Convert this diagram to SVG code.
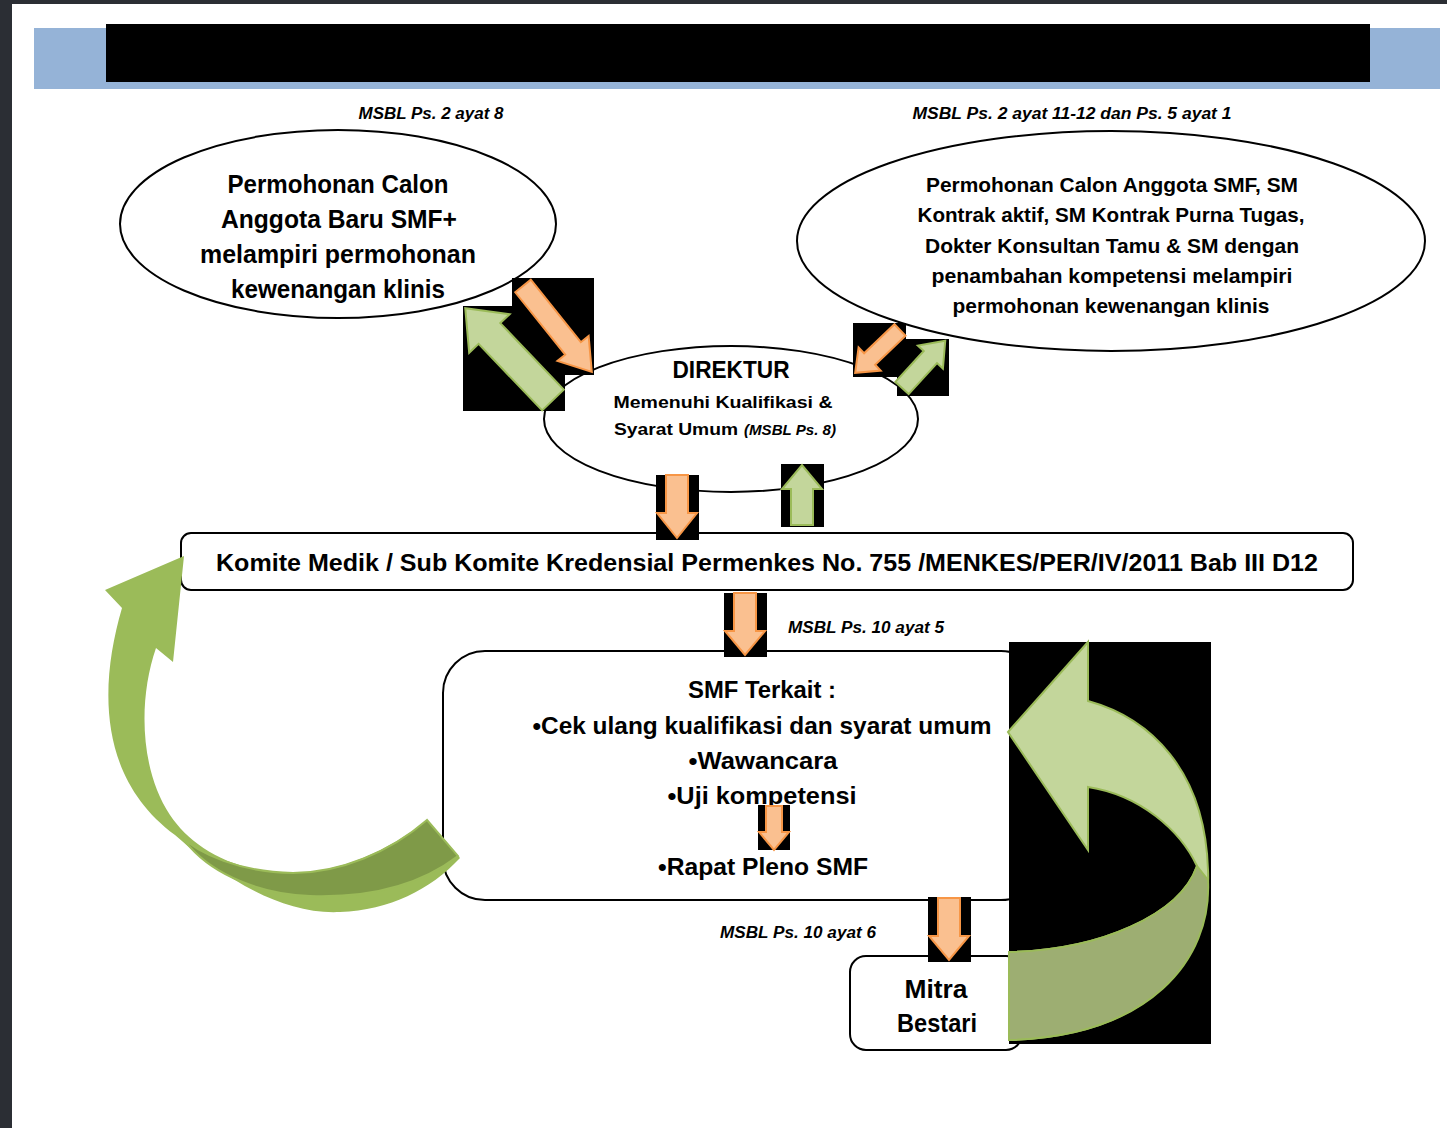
<svg xmlns="http://www.w3.org/2000/svg" width="1447" height="1128" viewBox="0 0 1447 1128">
<style>
.t{font-family:"Liberation Sans",Arial,sans-serif;font-weight:bold;fill:#000;text-anchor:middle}
.ref{font-family:"Liberation Sans",Arial,sans-serif;font-weight:bold;font-style:italic;font-size:16px;fill:#000;text-anchor:middle}
.shape{fill:#fff;stroke:#000;stroke-width:2}
.bg{fill:#000}
.or{fill:#fac090;stroke:#f79646;stroke-width:2;stroke-linejoin:miter}
.gr{fill:#c3d69b;stroke:#9bbb59;stroke-width:2;stroke-linejoin:miter}
</style>
<rect x="0" y="0" width="1447" height="1128" fill="#2b2e34"/>
<rect x="12" y="4" width="1435" height="1124" fill="#fff"/>
<rect x="34" y="28" width="1406" height="61" fill="#95b3d7"/>
<rect x="106" y="24" width="1264" height="58" fill="#000"/>

<text class="ref" x="431" y="119" textLength="145" lengthAdjust="spacingAndGlyphs">MSBL Ps. 2 ayat 8</text>
<text class="ref" x="1072" y="119" textLength="319" lengthAdjust="spacingAndGlyphs">MSBL Ps. 2 ayat 11-12 dan Ps. 5 ayat 1</text>

<g id="node-permohonan-baru">
<ellipse class="shape" cx="338" cy="224" rx="218" ry="94"/>
<text class="t" font-size="25" x="338" y="193" textLength="221" lengthAdjust="spacingAndGlyphs">Permohonan Calon</text>
<text class="t" font-size="25" x="339" y="228" textLength="236" lengthAdjust="spacingAndGlyphs">Anggota  Baru SMF+</text>
<text class="t" font-size="25" x="338" y="263" textLength="276" lengthAdjust="spacingAndGlyphs">melampiri permohonan</text>
<text class="t" font-size="25" x="338" y="298" textLength="214" lengthAdjust="spacingAndGlyphs">kewenangan klinis</text>
</g>

<g id="node-permohonan-lain">
<ellipse class="shape" cx="1111" cy="241" rx="314" ry="110"/>
<text class="t" font-size="21" x="1112" y="192" textLength="372" lengthAdjust="spacingAndGlyphs">Permohonan Calon Anggota SMF, SM</text>
<text class="t" font-size="21" x="1111" y="222" textLength="387" lengthAdjust="spacingAndGlyphs">Kontrak aktif, SM Kontrak Purna Tugas,</text>
<text class="t" font-size="21" x="1112" y="253" textLength="374" lengthAdjust="spacingAndGlyphs">Dokter Konsultan Tamu &amp; SM dengan</text>
<text class="t" font-size="21" x="1112" y="283" textLength="361" lengthAdjust="spacingAndGlyphs">penambahan kompetensi melampiri</text>
<text class="t" font-size="21" x="1111" y="313" textLength="317" lengthAdjust="spacingAndGlyphs">permohonan kewenangan klinis</text>
</g>

<g id="node-direktur">
<ellipse class="shape" cx="731" cy="419" rx="187" ry="73"/>
<text class="t" font-size="23" x="731" y="378" textLength="117" lengthAdjust="spacingAndGlyphs">DIREKTUR</text>
<text class="t" font-size="17" x="723" y="408" textLength="219" lengthAdjust="spacingAndGlyphs">Memenuhi Kualifikasi &amp;</text>
<text class="t" font-size="17" x="676" y="435" textLength="124" lengthAdjust="spacingAndGlyphs">Syarat Umum</text>
<text class="ref" x="790" y="435" textLength="92" lengthAdjust="spacingAndGlyphs" style="font-size:14px">(MSBL Ps. 8)</text>
</g>

<g id="node-komite">
<rect class="shape" x="181" y="533" width="1172" height="57" rx="10"/>
<text class="t" font-size="23" x="767" y="571" textLength="1102" lengthAdjust="spacingAndGlyphs">Komite Medik / Sub Komite Kredensial  Permenkes No. 755 /MENKES/PER/IV/2011 Bab III D12</text>
</g>

<text class="ref" x="866" y="633" textLength="156" lengthAdjust="spacingAndGlyphs">MSBL Ps. 10 ayat 5</text>

<g id="node-smf">
<rect class="shape" x="443" y="651" width="600" height="249" rx="42"/>
<text class="t" font-size="24" x="762" y="698" textLength="148" lengthAdjust="spacingAndGlyphs">SMF Terkait :</text>
<text class="t" font-size="24" x="762" y="734" textLength="459" lengthAdjust="spacingAndGlyphs">•Cek ulang kualifikasi dan syarat umum</text>
<text class="t" font-size="24" x="763" y="769" textLength="149" lengthAdjust="spacingAndGlyphs">•Wawancara</text>
<text class="t" font-size="24" x="762" y="804" textLength="189" lengthAdjust="spacingAndGlyphs">•Uji kompetensi</text>
<text class="t" font-size="24" x="763" y="875" textLength="210" lengthAdjust="spacingAndGlyphs">•Rapat Pleno SMF</text>
</g>

<text class="ref" x="798" y="938" textLength="156" lengthAdjust="spacingAndGlyphs">MSBL Ps. 10 ayat 6</text>

<g id="node-mitra">
<rect class="shape" x="850" y="956" width="172" height="94" rx="16"/>
<text class="t" font-size="25" x="936" y="998" textLength="63" lengthAdjust="spacingAndGlyphs">Mitra</text>
<text class="t" font-size="25" x="937" y="1032" textLength="80" lengthAdjust="spacingAndGlyphs">Bestari</text>
</g>

<g id="connectors">
<rect class="bg" x="512" y="278" width="82" height="97"/>
<rect class="bg" x="463" y="306" width="102" height="105"/>
<path class="or" d="M-10,0 H10 V80 H20 L0,110 L-20,80 H-10 Z" transform="translate(523,286) rotate(-38.7)"/>
<path class="gr" d="M-15,0 H15 V92 H28 L0,127 L-28,92 H-15 Z" transform="translate(553,400) rotate(136.3)"/>

<rect class="bg" x="853" y="323" width="53" height="54"/>
<rect class="bg" x="897" y="339" width="52" height="57"/>
<path class="or" d="M-8,0 H8 V42 H16 L0,62 L-16,42 H-8 Z" transform="translate(900,330) rotate(46.3)"/>
<path class="gr" d="M-9,0 H9 V42 H17 L0,64 L-17,42 H-9 Z" transform="translate(902,388) rotate(-137.5)"/>

<rect class="bg" x="656" y="475" width="43" height="65"/>
<path class="or" d="M-11,0 H11 V38 H20 L0,63 L-20,38 H-11 Z" transform="translate(677,475)"/>
<rect class="bg" x="781" y="464" width="43" height="63"/>
<path class="gr" d="M-11,0 H11 V36 H20 L0,60 L-20,36 H-11 Z" transform="translate(802,525) rotate(180)"/>

<rect class="bg" x="724" y="593" width="43" height="64"/>
<path class="or" d="M-11,0 H11 V38 H20 L0,62 L-20,38 H-11 Z" transform="translate(745,593)"/>

<rect class="bg" x="758" y="805" width="32" height="45"/>
<path class="or" d="M-8,0 H8 V26 H15 L0,44 L-15,26 H-8 Z" transform="translate(774,806)"/>

<rect class="bg" x="928" y="897" width="43" height="65"/>
<path class="or" d="M-11,0 H11 V38 H20 L0,62 L-20,38 H-11 Z" transform="translate(949,898)"/>

<g id="loop-left">
<path d="M184,556 L105,590 L122,608 C98,690 100,780 175,835 C220,875 280,915 340,912 C390,910 430,890 460,858 L427,820 C390,850 340,873 290,873 C230,872 190,845 170,815 C140,770 138,700 156,648 L173,662 Z" fill="#9bbb59"/>
<path d="M176,833 C200,855 240,872 293,873 C340,873 390,852 427,820 L458,856 C420,885 370,898 310,896 C260,894 215,875 190,847 Z" fill="#7f9a48" stroke="#9bbb59" stroke-width="2"/>
</g>

<g id="loop-right">
<rect class="bg" x="1009" y="642" width="202" height="402"/>
<path d="M1008,732 L1088,642 L1088,701 C1150,718 1205,770 1208,870 C1212,960 1150,1036 1009,1040 L1009,952 C1100,950 1180,915 1197,866 C1180,830 1140,795 1088,787 L1088,850 Z" fill="#c3d69b" stroke="#9bbb59" stroke-width="2"/>
<path d="M1197,866 C1180,915 1100,950 1009,952 L1009,1040 C1150,1036 1212,960 1208,880 Z" fill="#9dae72" stroke="#9bbb59" stroke-width="2"/>
</g>
</g>
</svg>
